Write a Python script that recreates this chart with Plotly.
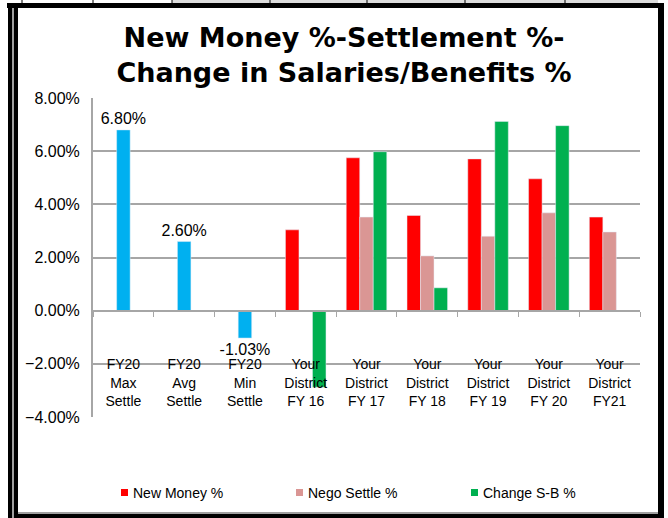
import plotly.graph_objects as go

categories = ['FY20<br>Max<br>Settle', 'FY20<br>Avg<br>Settle', 'FY20<br>Min<br>Settle',
              'Your<br>District<br>FY 16', 'Your<br>District<br>FY 17', 'Your<br>District<br>FY 18',
              'Your<br>District<br>FY 19', 'Your<br>District<br>FY 20', 'Your<br>District<br>FY21']
new_money = [None, None, None, 3.04, 5.75, 3.58, 5.71, 4.96, 3.52]
nego_settle = [6.80, 2.60, -1.03, None, 3.52, 2.06, 2.80, 3.68, 2.96]
change_sb = [None, None, None, -2.88, 5.98, 0.86, 7.12, 6.96, None]
nego_labels = ['6.80%', '2.60%', '-1.03%', '', '', '', '', '', '']

series_names = ['New Money %', 'Nego Settle %', 'Change S-B %']
series_colors = ['#ff0000', '#da9694', '#00b050']

W, H = 668, 518
L, R, T, B = 93, 640, 98, 417

# the three FY20 benchmark points of the settle series are shown in blue
nego_colors = ['#00b0f0'] * 3 + ['#da9694'] * 6

fig = go.Figure()
fig.add_trace(go.Bar(x=categories, y=new_money, name=series_names[0],
                     marker_color=series_colors[0]))
fig.add_trace(go.Bar(x=categories, y=nego_settle, name=series_names[1],
                     marker=dict(color=nego_colors), text=nego_labels, textposition='outside',
                     constraintext='none', cliponaxis=False,
                     textfont=dict(family='Liberation Sans, Arial', size=16, color='black')))
fig.add_trace(go.Bar(x=categories, y=change_sb, name=series_names[2],
                     marker_color=series_colors[2]))


def px(x):
    return (x - L) / (R - L)


def py(y):
    return (B - y) / (B - T)


shapes = []
frame = [
    (7, 3, 664, 8, 'black'),
    (8, 3, 12, 518, 'black'),
    (12, 8, 14, 518, '#a0a0a0'),
    (14, 3, 18, 518, 'black'),
    (658, 3, 664, 516, 'black'),
    (14, 514, 664, 518, 'black'),
    (18, 512, 658, 514, '#a0a0a0'),
    (172, 0, 658, 3, '#dcdcdc'),
]
for x0, y0, x1, y1, c in frame:
    shapes.append(dict(type='rect', xref='paper', yref='paper', x0=px(x0), x1=px(x1),
                       y0=py(y0), y1=py(y1), fillcolor=c, line_width=0, layer='above'))
for xc in [22, 93, 172, 270, 367, 465, 565]:
    shapes.append(dict(type='line', xref='paper', yref='paper', x0=px(xc), x1=px(xc),
                       y0=py(0), y1=py(3), line=dict(color='black', width=1)))

# legend drawn by hand: small square swatch + label
annotations = []
for name, color, lx in zip(series_names, series_colors, [121, 296, 471]):
    shapes.append(dict(type='rect', xref='paper', yref='paper', x0=px(lx), x1=px(lx + 7),
                       y0=py(496), y1=py(489), fillcolor=color, line_width=0))
    annotations.append(dict(text=name, xref='paper', yref='paper', x=px(lx + 10), y=py(493),
                            xanchor='left', yanchor='middle', showarrow=False,
                            font=dict(size=14, color='black')))

fig.update_layout(
    width=W, height=H,
    margin=dict(l=L, r=W - R, t=T, b=H - B, autoexpand=False),
    paper_bgcolor='white', plot_bgcolor='white',
    font=dict(family='Liberation Sans, Arial', size=16, color='black'),
    title=dict(text='<b>New Money %-Settlement %-<br>Change in Salaries/Benefits %</b>',
               xref='paper', x=px(344), xanchor='center', y=1 - 47 / H, yanchor='top',
               font=dict(family='DejaVu Sans', size=27, color='black')),
    barmode='group', bargap=0.333, bargroupgap=0,
    showlegend=False,
    shapes=shapes,
    annotations=annotations,
)
fig.update_yaxes(range=[-4, 8], dtick=2, tickformat='.2f', ticksuffix='%',
                 showgrid=True, gridcolor='#a6a6a6', gridwidth=2,
                 showline=True, linecolor='#a6a6a6', linewidth=2,
                 zeroline=False, ticks='', ticklabelstandoff=8, tickfont=dict(size=16))
fig.update_xaxes(type='category', anchor='free', position=4 / 12,
                 showline=True, linecolor='#a6a6a6', linewidth=2,
                 ticks='outside', ticklen=5, tickcolor='#a6a6a6', tickson='boundaries',
                 ticklabelstandoff=41, showgrid=False, tickfont=dict(size=14))

fig.write_html('out.html', config={'displayModeBar': False},
               post_script="document.body.style.margin='0';")
